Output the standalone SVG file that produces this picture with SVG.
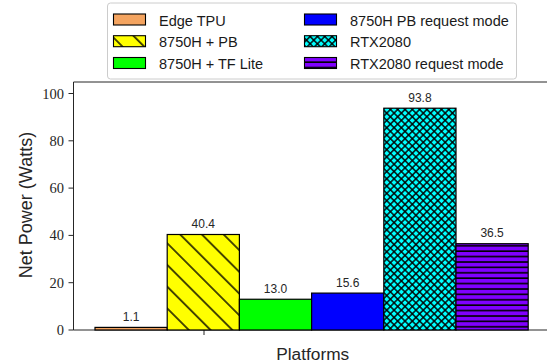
<svg xmlns="http://www.w3.org/2000/svg" width="547" height="364" viewBox="0 0 547 364">
<style>
.bar{stroke:#000;stroke-width:1.2}
.lp{stroke:#000;stroke-width:1.1}
.val{font-family:"Liberation Sans",Arial,sans-serif;font-size:12px;fill:#262626;text-anchor:middle}
.tick{font-family:"Liberation Serif","Times New Roman",serif;font-size:14.5px;fill:#262626;text-anchor:end}
.leg{font-family:"Liberation Sans",Arial,sans-serif;font-size:14.5px;fill:#1a1a1a}
.lab{font-family:"Liberation Sans",Arial,sans-serif;fill:#262626;text-anchor:middle}
.ax{stroke:#262626;stroke-width:1;fill:none}
</style>
<defs>
<pattern id="hYellow" patternUnits="userSpaceOnUse" width="15.35" height="15.35" patternTransform="rotate(45)">
<rect width="15.35" height="15.35" fill="#ffff00"/>
<rect x="0" y="7" width="15.35" height="1.4" fill="#000"/>
</pattern>
<pattern id="hCyan" patternUnits="userSpaceOnUse" width="5.16" height="5.16" patternTransform="rotate(45)">
<rect width="5.16" height="5.16" fill="#00ffff"/>
<rect x="0" y="1.88" width="5.16" height="1.4" fill="#000"/>
<rect x="1.88" y="0" width="1.4" height="5.16" fill="#000"/>
</pattern>
<pattern id="hPurple" patternUnits="userSpaceOnUse" width="10" height="5.4">
<rect width="10" height="5.4" fill="#8000ff"/>
<rect x="0" y="2" width="10" height="1.6" fill="#000"/>
</pattern>
</defs>

<g id="axes">
<line class="ax" x1="73.5" y1="82" x2="73.5" y2="330"/>
<line class="ax" x1="73.5" y1="82" x2="547" y2="82"/>
<line class="ax" x1="73.5" y1="330" x2="547" y2="330"/>
<g class="ax">
<line x1="68.5" y1="330" x2="73.5" y2="330"/>
<line x1="68.5" y1="282.7" x2="73.5" y2="282.7"/>
<line x1="68.5" y1="235.4" x2="73.5" y2="235.4"/>
<line x1="68.5" y1="188.1" x2="73.5" y2="188.1"/>
<line x1="68.5" y1="140.8" x2="73.5" y2="140.8"/>
<line x1="68.5" y1="93.5" x2="73.5" y2="93.5"/>
<line x1="204" y1="330" x2="204" y2="335"/>
</g>
<text class="tick" x="64" y="335">0</text>
<text class="tick" x="64" y="287.7">20</text>
<text class="tick" x="64" y="240.4">40</text>
<text class="tick" x="64" y="193.1">60</text>
<text class="tick" x="64" y="145.8">80</text>
<text class="tick" x="64" y="98.5">100</text>
<text class="lab" x="312.7" y="360" font-size="17.3">Platforms</text>
<text class="lab" x="0" y="0" font-size="18" transform="translate(31.5 205) rotate(-90)">Net Power (Watts)</text>
</g>

<g id="bar-edge-tpu">
<rect class="bar" x="95" y="327.4" width="72.2" height="2.6" fill="#f4a460"/>
<text class="val" x="131.1" y="320.7">1.1</text>
</g>
<g id="bar-8750h-pb">
<rect class="bar" x="167.2" y="234.5" width="72.2" height="95.5" fill="url(#hYellow)"/>
<text class="val" x="203.3" y="227.9">40.4</text>
</g>
<g id="bar-8750h-tflite">
<rect class="bar" x="239.4" y="299.25" width="72.2" height="30.75" fill="#00ff00"/>
<text class="val" x="275.5" y="292.6">13.0</text>
</g>
<g id="bar-8750h-pb-request">
<rect class="bar" x="311.6" y="293.1" width="72.2" height="36.9" fill="#0000ff"/>
<text class="val" x="347.7" y="286.5">15.6</text>
</g>
<g id="bar-rtx2080">
<rect class="bar" x="383.8" y="108.2" width="72.2" height="221.8" fill="url(#hCyan)"/>
<text class="val" x="419.9" y="101.7">93.8</text>
</g>
<g id="bar-rtx2080-request">
<rect class="bar" x="456" y="243.7" width="72.2" height="86.3" fill="url(#hPurple)"/>
<text class="val" x="492.1" y="237.1">36.5</text>
</g>

<g id="legend">
<rect x="107.5" y="3" width="409" height="76" rx="3" fill="#fff" stroke="#cccccc" stroke-width="1"/>
<rect class="lp" x="113.5" y="14" width="32" height="11" fill="#f4a460"/>
<text class="leg" x="159" y="25.5">Edge TPU</text>
<rect class="lp" x="113.5" y="35.7" width="32" height="11" fill="url(#hYellow)"/>
<text class="leg" x="159" y="47.2">8750H + PB</text>
<rect class="lp" x="113.5" y="57.5" width="32" height="11" fill="#00ff00"/>
<text class="leg" x="159" y="69">8750H + TF Lite</text>
<rect class="lp" x="304.5" y="14" width="32" height="11" fill="#0000ff"/>
<text class="leg" x="350" y="25.5">8750H PB request mode</text>
<rect class="lp" x="304.5" y="35.7" width="32" height="11" fill="url(#hCyan)"/>
<text class="leg" x="350" y="47.2">RTX2080</text>
<rect class="lp" x="304.5" y="57.5" width="32" height="11" fill="url(#hPurple)"/>
<text class="leg" x="350" y="69">RTX2080 request mode</text>
</g>
</svg>
